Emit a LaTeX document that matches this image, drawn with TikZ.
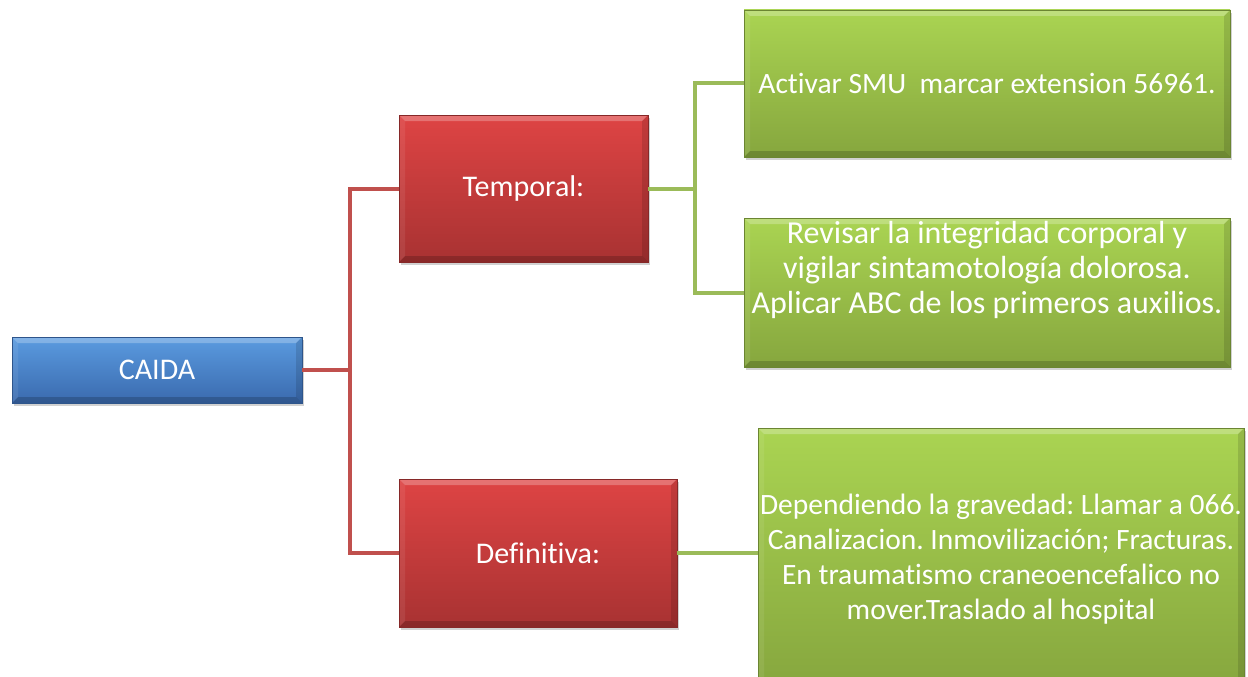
\documentclass[tikz,border=0pt]{standalone}
\usepackage{fontspec}
\setmainfont[Ligatures={NoCommon}]{Carlito}
\frenchspacing
\usetikzlibrary{shadows}
\definecolor{bluetop}{HTML}{5B9BE0}
\definecolor{bluebot}{HTML}{3A6AAE}
\definecolor{redtop}{HTML}{DE4444}
\definecolor{redbot}{HTML}{A83232}
\definecolor{greentop}{HTML}{AAD452}
\definecolor{greenbot}{HTML}{86A63E}
\definecolor{redline}{HTML}{C0504D}
\definecolor{greenline}{HTML}{9BBB59}
\newcommand{\bevelfill}{%
  \fill[white, opacity=0.25] (path picture bounding box.north west) -- (path picture bounding box.north east)
    -- ([xshift=-6pt,yshift=-6pt]path picture bounding box.north east) -- ([xshift=6pt,yshift=-6pt]path picture bounding box.north west) -- cycle;
  \fill[black, opacity=0.18] (path picture bounding box.south west) -- (path picture bounding box.south east)
    -- ([xshift=-6pt,yshift=6pt]path picture bounding box.south east) -- ([xshift=6pt,yshift=6pt]path picture bounding box.south west) -- cycle;
  \fill[white, opacity=0.08] (path picture bounding box.north west) -- (path picture bounding box.south west)
    -- ([xshift=6pt,yshift=6pt]path picture bounding box.south west) -- ([xshift=6pt,yshift=-6pt]path picture bounding box.north west) -- cycle;
  \fill[black, opacity=0.12] (path picture bounding box.north east) -- (path picture bounding box.south east)
    -- ([xshift=-6pt,yshift=6pt]path picture bounding box.south east) -- ([xshift=-6pt,yshift=-6pt]path picture bounding box.north east) -- cycle;
}
\tikzset{
  box/.style={rectangle, inner sep=0pt, text=white, align=center,
    font=\fontsize{30}{35}\selectfont, line width=0.6pt,
    path picture={\bevelfill},
    drop shadow={shadow xshift=2pt, shadow yshift=-3pt, opacity=0.3, fill=black!60}},
  bluebox/.style={box, top color=bluetop, bottom color=bluebot, draw=bluebot!80!black},
  redbox/.style={box, top color=redtop, bottom color=redbot, draw=redbot!80!black},
  greenbox/.style={box, top color=greentop, bottom color=greenbot, draw=greenbot!80!black},
  txt/.style={text=white, align=center, inner sep=0pt, font=\fontsize{30}{35}\selectfont},
  redconn/.style={draw=redline, line width=4pt},
  greenconn/.style={draw=greenline, line width=4pt},
}
\begin{document}
\begin{tikzpicture}[x=1pt, y=-1pt]
\useasboundingbox (0,0) rectangle (1248,677);
\coordinate (rj) at (350,370);
\coordinate (gj) at (695,188);
% boxes
\node[bluebox, minimum width=290pt, minimum height=66pt] (caida) at (157,370) {CAIDA};
\node[redbox, minimum width=249pt, minimum height=147pt] (temp) at (523.5,188.5) {Temporal:};
\node[redbox, minimum width=278pt, minimum height=148pt] (defi) at (538,553) {Definitiva:};
\node[greenbox, minimum width=486pt, minimum height=147pt, font=\fontsize{29.5}{35}\selectfont] (g1) at (987,83.5) {Activar SMU\ \ marcar extension 56961.};
\node[greenbox, minimum width=486pt, minimum height=149pt] (g2) at (987,292.5) {};
\node[txt, font=\fontsize{32}{35}\selectfont] (g2t) at (987,270) {Revisar la integridad corporal y\\vigilar sintamotología dolorosa.\\Aplicar ABC de los primeros auxilios.};
\node[greenbox, minimum width=486pt, minimum height=262pt, font=\fontsize{29.5}{35}\selectfont] (g3) at (1001,559) {Dependiendo la gravedad: Llamar a 066.\\Canalizacion. Inmovilización; Fracturas.\\En traumatismo craneoencefalico no\\mover.Traslado al hospital};
% connectors
\draw[redconn] (caida.east) -- (caida.east -| rj) |- (temp.west);
\draw[redconn] (caida.east -| rj) |- (defi.west);
\draw[greenconn] (temp.east) -- (temp.east -| gj) |- (g1.west);
\draw[greenconn] (temp.east -| gj) |- (g2.west);
\draw[greenconn] (defi.east) -- (defi.east -| g3.west);
\end{tikzpicture}
\end{document}
